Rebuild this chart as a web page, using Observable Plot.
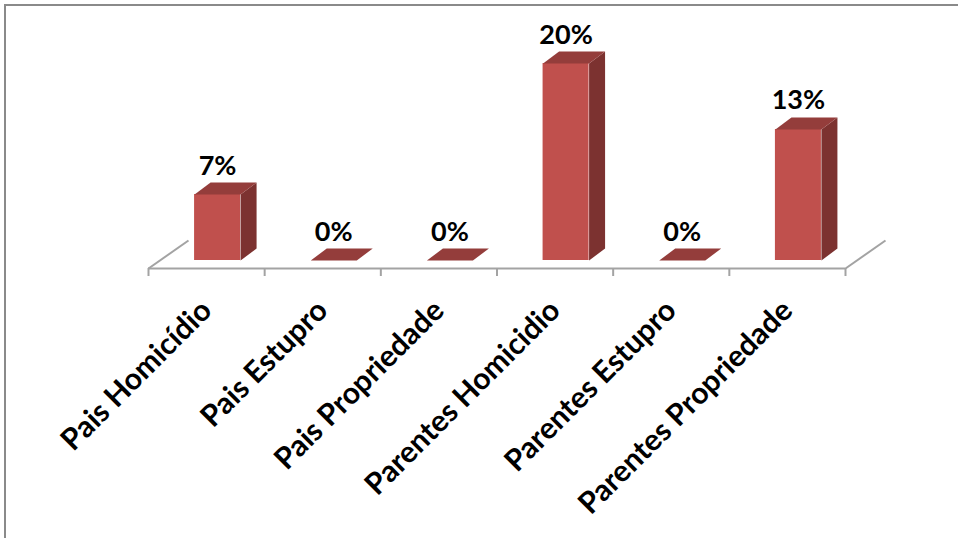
<!DOCTYPE html>
<html>
<head>
<meta charset="utf-8">
<script src="https://cdn.jsdelivr.net/npm/d3@7"></script>
<script src="https://cdn.jsdelivr.net/npm/@observablehq/plot@0.6"></script>
<style>
  html, body { margin: 0; padding: 0; background: #fff; }
  #wrap { position: relative; width: 958px; height: 538px; overflow: hidden; }
  #border { position: absolute; left: 4px; top: 4px; width: 970px; height: 560px; border: 2px solid #8a8a8a; box-sizing: border-box; }
  #chart { position: absolute; left: 0; top: 0; }
</style>
</head>
<body>
<div id="wrap"><div id="border"></div><div id="chart"></div></div>
<script>
const categories = ["Pais Homicídio", "Pais Estupro", "Pais Propriedade", "Parentes Homicidio", "Parentes Estupro", "Parentes Propriedade"];
const values = [6.7, 0, 0, 20, 0, 13.3];
const valueLabels = ["7%", "0%", "0%", "20%", "0%", "13%"];

const bars = categories.map((c, i) => ({cat: c, i, value: values[i], label: valueLabels[i]}));

const W = 958, H = 538, ML = 148, MR = 113, MT = 71, MB = 270;
const kx = (W - ML - MR) / categories.length; // px per category
const ky = (H - MT - MB) / 20;                 // px per percent
const FRONT_W = 46, DEPTH_X = 16, DEPTH_Y = 12, OFF_X = 11, OFF_Y = 8, FLOOR_X = 40, FLOOR_Y = 28;
const hw = FRONT_W / 2 / kx, ddx = DEPTH_X / kx, ddy = DEPTH_Y / ky;

const FRONT = "#c0504d", SIDE = "#7c3230", TOP = "#943d3b", AXIS = "#a3a3a3";
const FONT = "Lato, 'Liberation Sans', sans-serif";

const sideVerts = bars.flatMap(d => {
  const xr = d.i + 0.5 + hw;
  return [
    {id: d.i, x: xr, y: 0},
    {id: d.i, x: xr, y: d.value},
    {id: d.i, x: xr + ddx, y: d.value + ddy},
    {id: d.i, x: xr + ddx, y: ddy}
  ];
});
const topVerts = bars.flatMap(d => {
  const xl = d.i + 0.5 - hw, xr = d.i + 0.5 + hw;
  return [
    {id: d.i, x: xl, y: d.value},
    {id: d.i, x: xr, y: d.value},
    {id: d.i, x: xr + ddx, y: d.value + ddy},
    {id: d.i, x: xl + ddx, y: d.value + ddy}
  ];
});

const chart = Plot.plot({
  width: W, height: H,
  marginLeft: ML, marginRight: MR, marginTop: MT, marginBottom: MB,
  x: {type: "linear", domain: [0, categories.length], axis: null, label: null},
  y: {domain: [0, 20], axis: null, label: null},
  style: {fontFamily: FONT, background: "transparent"},
  marks: [
    Plot.link([0, categories.length], {x1: d => d, y1: 0, x2: d => d + FLOOR_X / kx, y2: FLOOR_Y / ky, stroke: AXIS, strokeWidth: 2}),
    Plot.ruleY([0], {stroke: AXIS, strokeWidth: 2}),
    Plot.axisX({ticks: d3.range(categories.length + 1), tickSize: 8, tickFormat: () => "", label: null, stroke: AXIS, strokeWidth: 2}),
    Plot.rect(bars, {x1: d => d.i + 0.5 - hw, x2: d => d.i + 0.5 + hw, y1: 0, y2: "value", dx: OFF_X, dy: -OFF_Y, fill: FRONT}),
    Plot.line(sideVerts, {x: "x", y: "y", z: "id", fill: SIDE, stroke: "none", dx: OFF_X, dy: -OFF_Y}),
    Plot.line(topVerts, {x: "x", y: "y", z: "id", fill: TOP, stroke: "none", dx: OFF_X, dy: -OFF_Y}),
    Plot.text(bars, {x: d => d.i + 0.5, y: "value", text: "label", dx: OFF_X, dy: -(OFF_Y + DEPTH_Y + 8), lineAnchor: "bottom", fontSize: 27, fontWeight: "bold", fill: "#000", fontFamily: FONT}),
    Plot.text(bars, {x: d => d.i + 0.5, y: 0, text: "cat", rotate: -45, textAnchor: "end", lineAnchor: "middle", dy: 37, fontSize: 30, fontWeight: "bold", fill: "#000", fontFamily: FONT})
  ]
});
document.getElementById("chart").appendChild(chart);
</script>
</body>
</html>
